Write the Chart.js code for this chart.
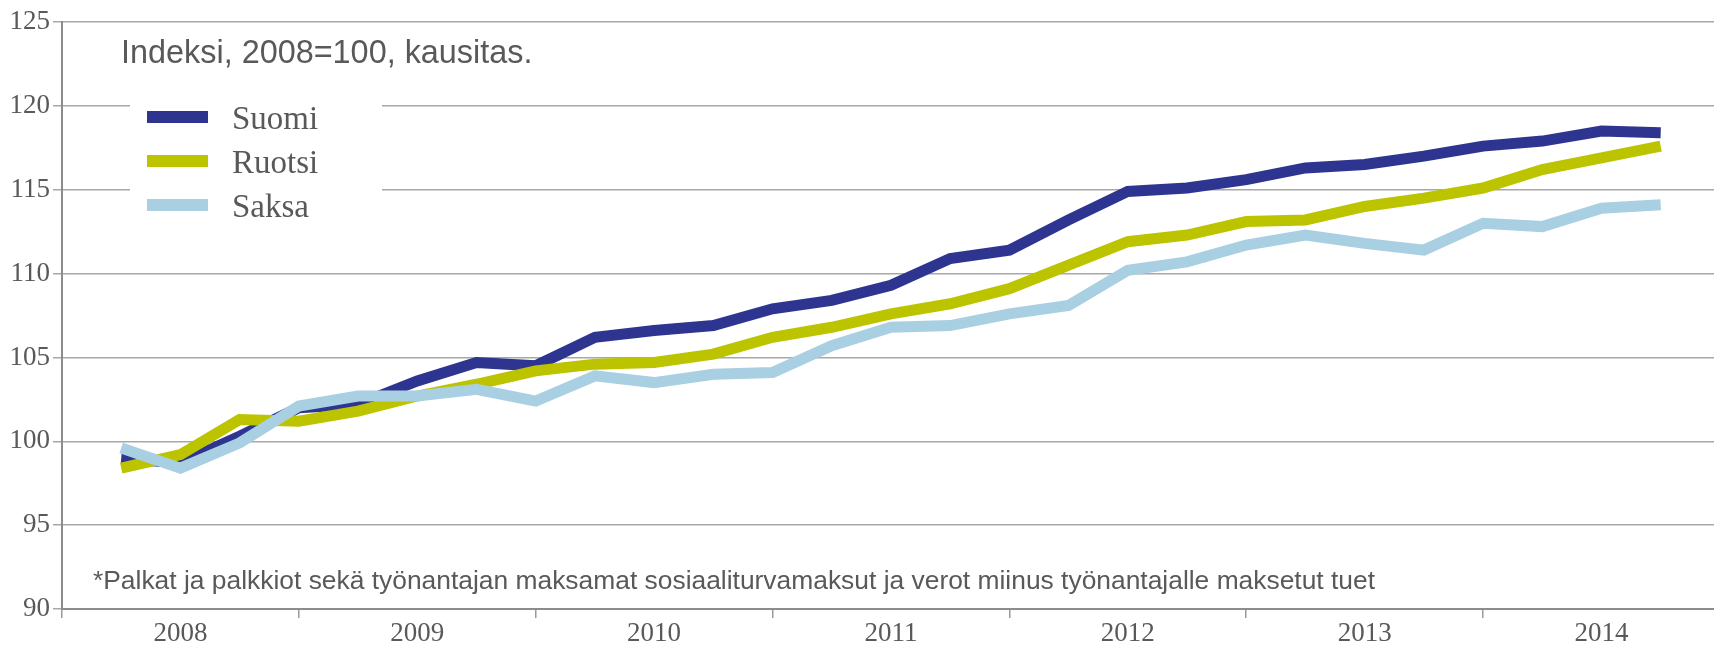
<!DOCTYPE html>
<html>
<head>
<meta charset="utf-8">
<script src="https://cdn.jsdelivr.net/npm/chart.js@4/dist/chart.umd.min.js"></script>
<style>
  body { margin: 0; background: #fff; }
  #wrap { position: relative; width: 1714px; height: 645px; }
</style>
</head>
<body>
<div id="wrap"><canvas id="chart" width="1714" height="645"></canvas></div>
<script>
// quarterly index values, 2008=100 (27 quarters)
const years = ['2008', '2009', '2010', '2011', '2012', '2013', '2014'];
const seriesNames = ['Suomi', 'Ruotsi', 'Saksa'];
const suomi = [99.0, 98.7, 100.3, 102.0, 102.2, 103.6, 104.7, 104.5, 106.2, 106.6, 106.9, 107.9, 108.4, 109.3,
  110.9, 111.4, 113.2, 114.9, 115.1, 115.6, 116.3, 116.5, 117.0, 117.6, 117.9, 118.5, 118.4];
const ruotsi = [98.4, 99.2, 101.3, 101.2, 101.8, 102.7, 103.4, 104.2, 104.6, 104.7, 105.2, 106.2, 106.8, 107.6,
  108.2, 109.1, 110.5, 111.9, 112.3, 113.1, 113.2, 114.0, 114.5, 115.1, 116.2, 116.9, 117.6];
const saksa = [99.6, 98.4, 99.9, 102.1, 102.7, 102.7, 103.1, 102.4, 103.9, 103.5, 104.0, 104.1, 105.7, 106.8,
  106.9, 107.6, 108.1, 110.2, 110.7, 111.7, 112.3, 111.8, 111.4, 113.0, 112.8, 113.9, 114.1];
const colors = ['#2e3590', '#bcc400', '#a8cfe2'];
const titleText = 'Indeksi, 2008=100, kausitas.';
const noteText = '*Palkat ja palkkiot sekä työnantajan maksamat sosiaaliturvamaksut ja verot miinus työnantajalle maksetut tuet';

const toPoints = arr => arr.map((v, i) => ({ x: i + 1, y: v }));
const allSeries = [suomi, ruotsi, saksa];

const textColor = '#595959';
const serif = '"Liberation Serif", "DejaVu Serif", serif';
const sans = '"Liberation Sans", Arial, sans-serif';

const overlay = {
  id: 'overlay',
  beforeDatasetsDraw(chart) {
    const ctx = chart.ctx;
    ctx.save();
    // legend box, covers the gridlines behind it
    ctx.fillStyle = '#fff';
    ctx.fillRect(130, 84, 252, 135);
    chart.data.datasets.forEach((ds, i) => {
      const y = 117 + i * 44;
      ctx.strokeStyle = ds.borderColor;
      ctx.lineWidth = 12;
      ctx.beginPath();
      ctx.moveTo(147, y);
      ctx.lineTo(208, y);
      ctx.stroke();
      ctx.fillStyle = textColor;
      ctx.font = '33px ' + serif;
      ctx.textBaseline = 'alphabetic';
      ctx.fillText(ds.label, 232, y + 12);
    });
    // title and note
    ctx.fillStyle = textColor;
    ctx.textBaseline = 'alphabetic';
    ctx.font = '32.4px ' + sans;
    ctx.fillText(titleText, 121, 63);
    ctx.font = '26.4px ' + sans;
    ctx.fillText(noteText, 93, 589);
    ctx.restore();
  }
};

new Chart(document.getElementById('chart'), {
  type: 'line',
  data: {
    datasets: allSeries.map((arr, i) => ({
      label: seriesNames[i],
      data: toPoints(arr),
      borderColor: colors[i],
      backgroundColor: colors[i],
      borderWidth: 11,
      pointRadius: 0,
      tension: 0,
      borderJoinStyle: 'miter',
      order: 2 - i
    }))
  },
  options: {
    responsive: false,
    devicePixelRatio: 1,
    animation: false,
    layout: { padding: { top: 22, right: 0, left: 0, bottom: 0 } },
    plugins: { legend: { display: false }, tooltip: { enabled: false } },
    scales: {
      x: {
        type: 'linear',
        min: 0,
        max: 27.9,
        afterBuildTicks: scale => {
          const t = [];
          for (let v = 0; v <= 26; v += 2) t.push({ value: v });
          scale.ticks = t;
        },
        afterFit: scale => { scale.height = 36; },
        grid: {
          drawOnChartArea: false,
          tickLength: 9,
          lineWidth: 1.5,
          color: c => (c.tick && c.tick.value % 4 === 0) ? '#999' : 'rgba(0,0,0,0)'
        },
        border: { color: '#8c8c8c', width: 2 },
        ticks: {
          autoSkip: false,
          maxRotation: 0,
          padding: 0,
          color: textColor,
          font: { family: serif, size: 27 },
          callback: v => (v % 4 === 2) ? years[(v - 2) / 4] : ''
        }
      },
      y: {
        min: 90,
        max: 125,
        afterFit: scale => { scale.width = 62; },
        grid: { color: '#a8a8a8', lineWidth: 1.5, tickLength: 9 },
        border: { color: '#8c8c8c', width: 2 },
        ticks: {
          stepSize: 5,
          padding: 3,
          color: textColor,
          font: { family: serif, size: 27 }
        }
      }
    }
  },
  plugins: [overlay]
});
</script>
</body>
</html>
